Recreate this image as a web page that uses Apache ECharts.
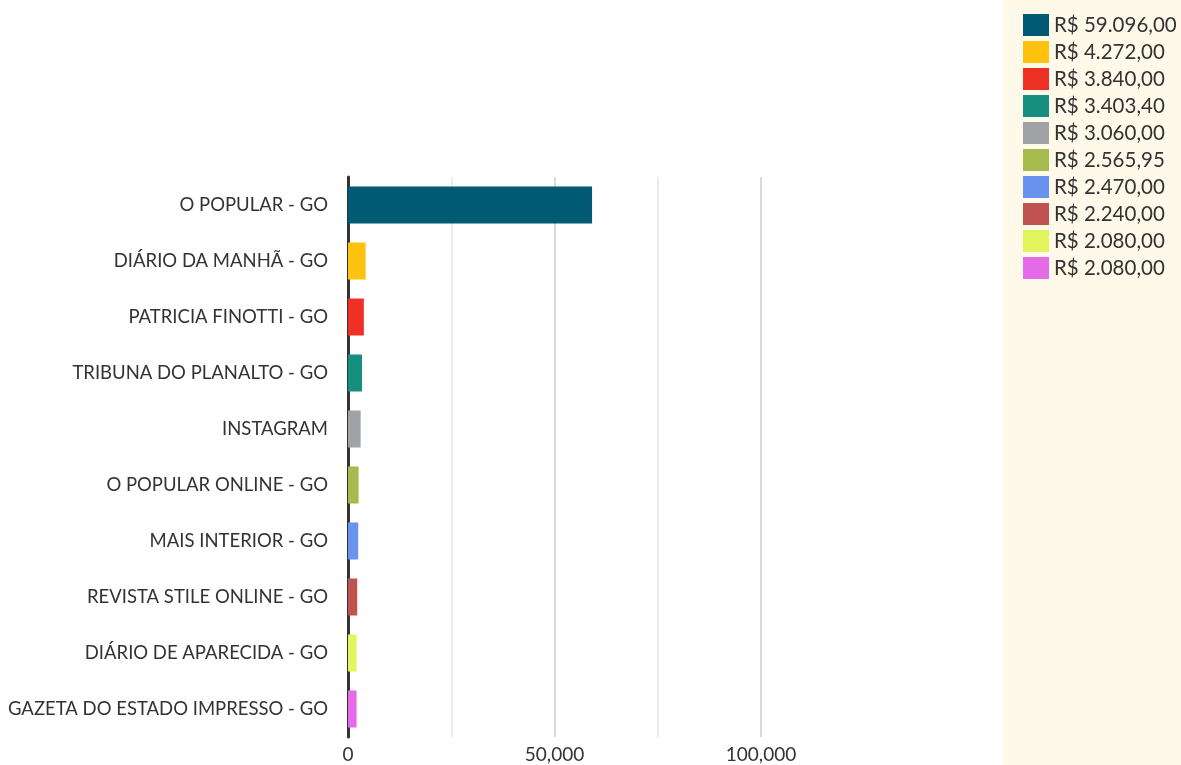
<!DOCTYPE html>
<html>
<head>
<meta charset="utf-8">
<script src="https://cdn.jsdelivr.net/npm/echarts@6/dist/echarts.min.js"></script>
<style>
html,body{margin:0;padding:0;background:#fff;}
#c{width:1181px;height:765px;}
</style>
</head>
<body>
<div id="c"></div>
<script>
var categories = ["O POPULAR - GO","DIÁRIO DA MANHÃ - GO","PATRICIA FINOTTI - GO","TRIBUNA DO PLANALTO - GO","INSTAGRAM","O POPULAR ONLINE - GO","MAIS INTERIOR - GO","REVISTA STILE ONLINE - GO","DIÁRIO DE APARECIDA - GO","GAZETA DO ESTADO IMPRESSO - GO"];
var values = [59096.00, 4272.00, 3840.00, 3403.40, 3060.00, 2565.95, 2470.00, 2240.00, 2080.00, 2080.00];
var legendLabels = ["R$ 59.096,00","R$ 4.272,00","R$ 3.840,00","R$ 3.403,40","R$ 3.060,00","R$ 2.565,95","R$ 2.470,00","R$ 2.240,00","R$ 2.080,00","R$ 2.080,00"];
var colors = ["#015a73","#ffc20e","#ee3124","#178f80","#a0a2a5","#a6ba4e","#6a92ef","#bf5350","#e3f55c","#e56be8"];
var xTicks = [0, 50000, 100000];

var FONT = "Lato";
var series = categories.map(function(c, i){
  var d = categories.map(function(_, j){ return j === i ? values[i] : '-'; });
  return {
    name: legendLabels[i] + (i === 9 ? ' ' : ''),
    type: 'bar',
    stack: 'all',
    data: d,
    barWidth: 37,
    itemStyle: {color: colors[i]},
    emphasis: {disabled: true}
  };
});

var chart = echarts.init(document.getElementById('c'));
chart.setOption({
  animation: false,
  color: colors,
  textStyle: {fontFamily: FONT},
  graphic: [{
    type: 'rect', left: 1003, top: 0, z: -10,
    shape: {width: 178, height: 765},
    style: {fill: '#fff9ea'}
  }],
  legend: {
    orient: 'vertical',
    left: 1018,
    top: 9,
    itemWidth: 26,
    itemHeight: 22,
    itemGap: 5,
    icon: 'rect',
    textStyle: {fontFamily: FONT, fontSize: 20.5, color: '#333'},
    data: series.map(function(s){ return s.name; })
  },
  grid: {left: 348, right: 420, top: 177, bottom: 28, containLabel: false, outerBoundsMode: 'none'},
  xAxis: {
    type: 'value',
    min: 0,
    max: 100000,
    interval: 25000,
    axisLine: {show: false},
    axisTick: {show: false},
    axisLabel: {
      fontFamily: FONT, fontSize: 19, color: '#333', margin: 8,
      formatter: function(v){ return xTicks.indexOf(v) >= 0 ? v.toLocaleString('en-US') : ''; },
      showMaxLabel: true
    },
    splitLine: {show: true, lineStyle: {color: ['#cccccc','#e6e6e6'], width: 1.5}}
  },
  yAxis: {
    type: 'category',
    inverse: true,
    data: categories,
    axisLine: {show: true, lineStyle: {color: '#333', width: 3}},
    axisTick: {show: false},
    axisLabel: {fontFamily: FONT, fontSize: 18.5, color: '#333', margin: 20}
  },
  series: series
});
</script>
</body>
</html>
